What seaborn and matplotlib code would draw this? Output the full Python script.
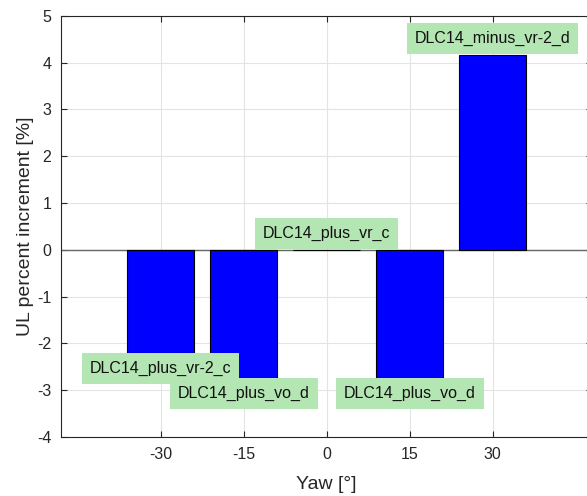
import matplotlib
matplotlib.use("Agg")
import matplotlib.pyplot as plt
import seaborn as sns
import pandas as pd

# Yaw offsets, ultimate-load increments and case names for each bar
yaw = [-30, -15, 0, 15, 30]
ul_increment = [-2.2, -2.74, 0.0, -2.75, 4.17]
case_names = ["DLC14_plus_vr-2_c", "DLC14_plus_vo_d", "DLC14_plus_vr_c",
              "DLC14_plus_vo_d", "DLC14_minus_vr-2_d"]
xticks = [-30, -15, 0, 15, 30]
yticks = [-4, -3, -2, -1, 0, 1, 2, 3, 4, 5]

sns.set_style("white")
plt.rcParams["font.family"] = ["Liberation Sans", "DejaVu Sans"]
plt.rcParams["axes.unicode_minus"] = False

ink = "#262626"
fig = plt.figure(figsize=(5.87, 4.96), dpi=100)
ax = fig.add_axes([0.1039, 0.119, 0.905, 0.849])

df = pd.DataFrame({"yaw": yaw, "ul": ul_increment})
sns.barplot(data=df, x="yaw", y="ul", native_scale=True, color="#0000ff",
            saturation=1, edgecolor="black", linewidth=0.8, ax=ax, zorder=2)

ax.set_xlim(-48, 48)
ax.set_ylim(-4, 5)
ax.set_xticks(xticks)
ax.set_yticks(yticks)
ax.grid(True, color="#e3e3e3", linewidth=0.8, zorder=0)
ax.set_axisbelow(True)
ax.axhline(0, color="#666666", linewidth=1.0, zorder=1.5)

for side in ["left", "bottom", "top", "right"]:
    ax.spines[side].set_visible(True)
    ax.spines[side].set_color(ink)
    ax.spines[side].set_linewidth(0.8)
ax.tick_params(direction="in", length=4, width=0.8, color=ink,
               labelsize=11.5, labelcolor=ink, top=True, right=True,
               bottom=True, left=True, pad=7)

ax.set_xlabel("Yaw [°]", fontsize=14, color=ink, labelpad=10)
ax.set_ylabel("UL percent increment [%]", fontsize=14, color=ink, labelpad=2)

# Case name annotations at the end of each bar
for x, v, name in zip(yaw, ul_increment, case_names):
    va = "top" if v < 0 else "bottom"
    off = -5.6 if v < 0 else 6.5
    ax.annotate(name, xy=(x, v), xytext=(0, off), textcoords="offset points",
                ha="center", va=va, fontsize=11.5, color="#111111", zorder=5,
                bbox=dict(boxstyle="square,pad=0.5", fc="#b3e6b3", ec="none"))

fig.savefig("out.png", dpi=100)
